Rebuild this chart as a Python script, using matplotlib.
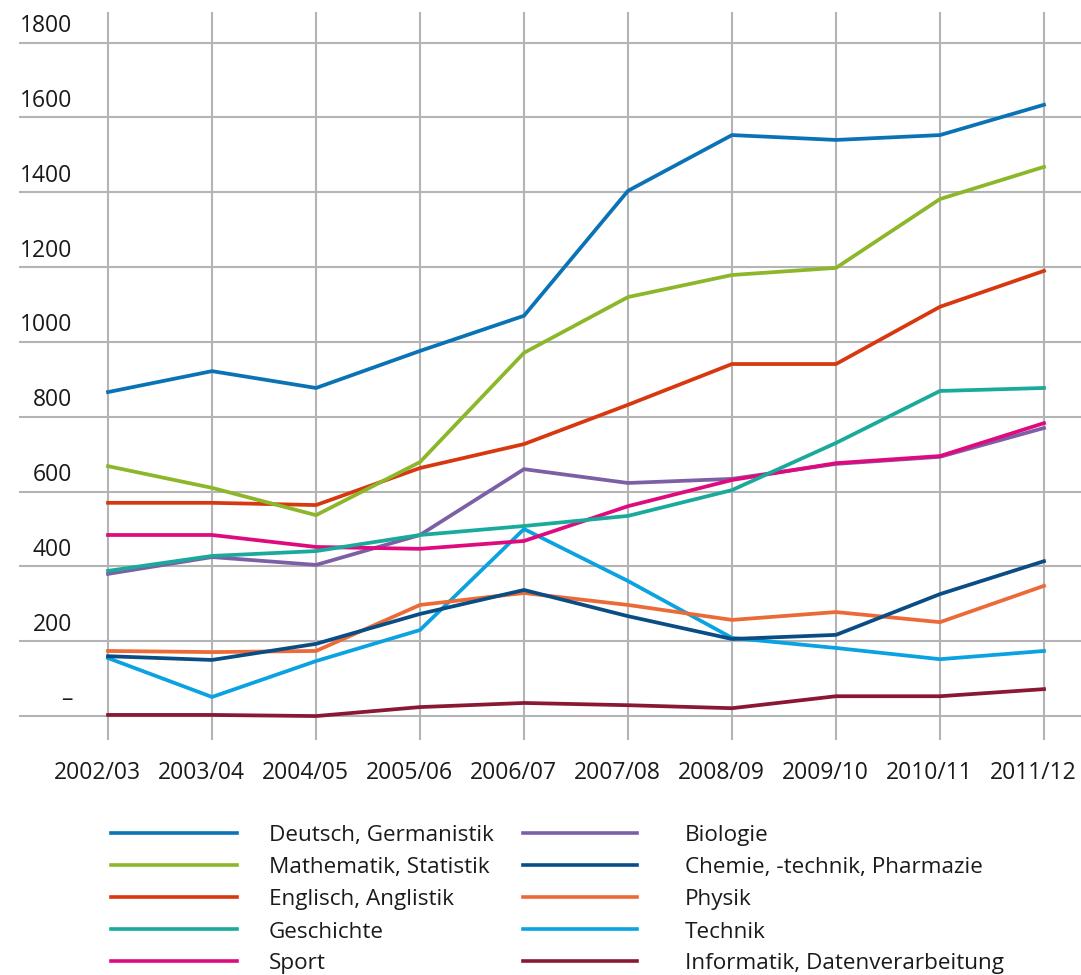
import numpy as np
import matplotlib
matplotlib.use('Agg')
import matplotlib.pyplot as plt
import matplotlib.transforms as mtransforms
from matplotlib.lines import Line2D

plt.rcParams['font.family'] = ['Open Sans', 'DejaVu Sans']

years = ['2002/03', '2003/04', '2004/05', '2005/06', '2006/07',
         '2007/08', '2008/09', '2009/10', '2010/11', '2011/12']

deutsch = [866, 922, 877, 976, 1070, 1404, 1553, 1540, 1553, 1634]
mathe = [668, 610, 537, 679, 971, 1120, 1179, 1198, 1382, 1468]
englisch = [570, 570, 564, 663, 727, 832, 941, 941, 1094, 1190]
geschichte = [388, 428, 441, 484, 508, 535, 604, 730, 869, 877]
sport = [484, 484, 452, 447, 468, 561, 631, 676, 695, 783]
biologie = [380, 425, 404, 484, 660, 623, 634, 674, 693, 770]
chemie = [160, 150, 193, 273, 337, 267, 206, 217, 326, 414]
physik = [174, 171, 174, 297, 329, 297, 257, 278, 251, 348]
technik = [155, 51, 147, 230, 500, 361, 209, 182, 152, 174]
informatik = [3, 3, 0, 24, 35, 29, 21, 53, 53, 72]

names_left = ['Deutsch, Germanistik', 'Mathematik, Statistik', 'Englisch, Anglistik',
              'Geschichte', 'Sport']
names_right = ['Biologie', 'Chemie, -technik, Pharmazie', 'Physik', 'Technik',
               'Informatik, Datenverarbeitung']
series = [deutsch, mathe, englisch, geschichte, sport,
          biologie, chemie, physik, technik, informatik]
colors = ['#0a73b6', '#8cb72a', '#d7380f', '#1aaa9b', '#df0a7e',
          '#7d5fa6', '#0a4d85', '#ec6a37', '#0aa2e1', '#8a1833']
yticks = [0, 200, 400, 600, 800, 1000, 1200, 1400, 1600, 1800]
ylabels = ['–', '200', '400', '600', '800', '1000', '1200', '1400', '1600', '1800']

W, H = 1081, 975
fig = plt.figure(figsize=(W / 100, H / 100), dpi=100)
ax = fig.add_axes([19 / W, 1 - 740 / H, 1 - 19 / W, (740 - 12) / H])

x = np.arange(len(years))
grid_c = '#b4b4b4'
for v in yticks:
    ax.axhline(v, color=grid_c, lw=1.5, zorder=1)
for xi in x:
    ax.axvline(xi, color=grid_c, lw=1.5, zorder=1)

# lowest series first so the big ones sit on top
for vals, c in reversed(list(zip(series, colors))):
    ax.plot(x, vals, color=c, lw=2.7, solid_joinstyle='miter', zorder=3)

ax.set_xlim(-0.856, 9.356)
ax.set_ylim(-64, 1882)
for s in ax.spines.values():
    s.set_visible(False)
ax.set_yticks([])
ax.set_xticks(x)
ax.set_xticklabels(years, fontsize=16.5, color='#1a1a1a')
ax.tick_params(axis='x', length=0, pad=15)
shift = mtransforms.ScaledTranslation(-11 / 100, 0, fig.dpi_scale_trans)
for lab in ax.get_xticklabels():
    lab.set_transform(lab.get_transform() + shift)

for v, lab in zip(yticks, ylabels):
    ax.text(-0.346, v + 28, lab, ha='right', va='baseline', fontsize=16.5, color='#1a1a1a')

# legend, two columns
rows = [833, 865, 897, 929, 961]
for i, (nm, c) in enumerate(zip(names_left, colors[:5])):
    yy = 1 - rows[i] / H
    fig.add_artist(Line2D([111 / W, 237 / W], [yy, yy], color=c, lw=2.6))
    fig.text(269 / W, yy - 3 / H, nm, ha='left', va='center', fontsize=16.2, color='#1a1a1a')
for i, (nm, c) in enumerate(zip(names_right, colors[5:])):
    yy = 1 - rows[i] / H
    fig.add_artist(Line2D([523 / W, 637 / W], [yy, yy], color=c, lw=2.6))
    fig.text(685 / W, yy - 3 / H, nm, ha='left', va='center', fontsize=16.2, color='#1a1a1a')

fig.savefig('out.png', dpi=100)
